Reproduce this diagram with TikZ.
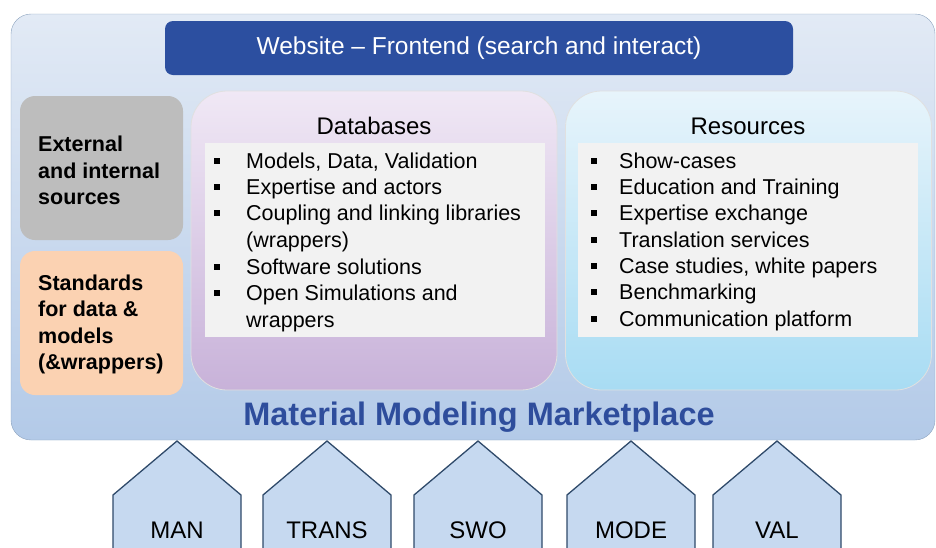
\documentclass[tikz,border=0pt]{standalone}
\usepackage{fontspec}
\setmainfont{Liberation Sans}
\usetikzlibrary{positioning}

\definecolor{outertop}{HTML}{E2EAF5}
\definecolor{outerbot}{HTML}{B3CAE8}
\definecolor{outerline}{HTML}{8EA4BF}
\definecolor{webblue}{HTML}{2C4FA0}
\definecolor{extgray}{HTML}{BDBDBD}
\definecolor{stdpeach}{HTML}{FBD2B2}
\definecolor{dbtop}{HTML}{F0E8F5}
\definecolor{dbbot}{HTML}{C8B2D9}
\definecolor{restop}{HTML}{E7F4FB}
\definecolor{resbot}{HTML}{A8DCF3}
\definecolor{listgray}{HTML}{F2F2F2}
\definecolor{housefill}{HTML}{C6D9F0}
\definecolor{houseline}{HTML}{2F4A6A}
\definecolor{titleblue}{HTML}{2E4D9C}

\begin{document}
\begin{tikzpicture}[x=1pt,y=-1pt,
	box/.style={rounded corners=15pt,minimum width=163pt,minimum height=144pt},
	bigbox/.style={draw=black!12,line width=0.8pt,rounded corners=36pt,minimum width=366pt,minimum height=299pt},
	listbox/.style={fill=listgray,minimum width=340pt,minimum height=194pt},
	item/.style={anchor=west,inner sep=0pt,text height=15.5pt,text depth=0pt,font=\fontsize{21.5}{26.5}\selectfont},
	bullet/.style={fill=black,minimum size=5.5pt,inner sep=0pt},
	boxtitle/.style={font=\fontsize{24}{28}\selectfont},
	sidetext/.style={anchor=west,align=left,inner sep=0pt,font=\fontsize{21.5}{26.5}\selectfont\bfseries},
	house/.style={fill=housefill,draw=houseline,line width=1.3pt,line join=miter}]

		\clip (0,0) rectangle (936,547);

		% draw the marketplace frame
		\draw[outerline,rounded corners=20pt,top color=outertop,bottom color=outerbot] (11,14) rectangle (935,440);

		% website bar
		\node[fill=webblue,rounded corners=8pt,minimum width=628pt,minimum height=54pt] (web) at (479,48) {};
		\node[text=white,font=\fontsize{24.5}{28}\selectfont] (webtext) at (web) {Website -- Frontend (search and interact)};

		% left boxes
		\node[box,fill=extgray] (ext) at (101.5,168) {};
		\node[sidetext] (exttext) at (38,170.5) {External\\and internal\\sources};
		\node[box,fill=stdpeach] (std) at (101.5,323) {};
		\node[sidetext] (stdtext) at (38,324.5) {Standards\\for data \&\\models\\(\&wrappers)};

		% databases
		\node[bigbox,top color=dbtop,bottom color=dbbot] (db) at (374,240.5) {};
		\node[boxtitle] (dbtitle) at (374,126) {Databases};
		\node[listbox] (dblist) at (375,240) {};
		\foreach \y/\t in {161/{Models, Data, Validation},187/{Expertise and actors},
			213/{Coupling and linking libraries},240/{(wrappers)},267/{Software solutions},
			293/{Open Simulations and},320/{wrappers}}
			\node[item] at (246,\y) {\t};
		\foreach \y in {161,187,213,267,293}
			\node[bullet] at (217,\y) {};

		% resources
		\node[bigbox,top color=restop,bottom color=resbot] (res) at (748.5,240.5) {};
		\node[boxtitle] (restitle) at (748,126) {Resources};
		\node[listbox] (reslist) at (748,240) {};
		\foreach \y/\t in {161/{Show-cases},187/{Education and Training},213/{Expertise exchange},
			240/{Translation services},266/{Case studies, white papers},292/{Benchmarking},
			319/{Communication platform}}
			\node[item] at (619,\y) {\t};
		\foreach \y in {161,187,213,240,266,292,319}
			\node[bullet] at (594,\y) {};

		% title
		\node[text=titleblue,font=\fontsize{32.5}{36}\selectfont\bfseries] (mmm) at (479,417) {Material Modeling Marketplace};

		% pillars
		\foreach \cx/\lab/\nm in {177/MAN/man,327/TRANS/trans,478/SWO/swo,631/MODE/mode,777/VAL/val}{
			\draw[house] (\cx-64,560) -- (\cx-64,495) -- (\cx,441) -- (\cx+64,495) -- (\cx+64,560);
			\node[font=\fontsize{24}{28}\selectfont] (\nm) at (\cx,530) {\lab};
		}

\end{tikzpicture}
\end{document}
